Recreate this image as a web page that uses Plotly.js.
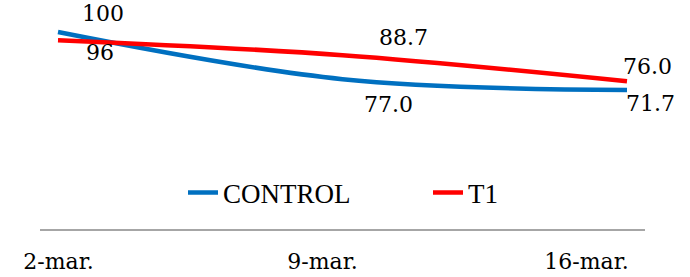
<!DOCTYPE html>
<html>
<head>
<meta charset="utf-8">
<script src="https://cdn.plot.ly/plotly-3.0.1.min.js"></script>
<style>
html,body{margin:0;padding:0;background:#fff;}
#chart{width:690px;height:277px;}
</style>
</head>
<body>
<div id="chart"></div>
<script>
var categories = ["2-mar.", "9-mar.", "16-mar."];
var control = [100, 77.0, 71.7];
var t1 = [96, 88.7, 76.0];
var seriesNames = ["CONTROL", "T1"];

function fmt(v, i) { return i === 0 ? String(v) : v.toFixed(1); }

var W = 690, H = 277;
// label offsets (px), style only
var ctrlShift = [[45, 19], [46, -25], [23, -13]];
var t1Shift = [[42, -12], [61, 18], [20, 15]];

var traces = [
  {x: categories, y: control, name: seriesNames[0], type: "scatter", mode: "lines",
   line: {color: "#0070C0", width: 4.5, shape: "spline", smoothing: 1}, hoverinfo: "skip"},
  {x: categories, y: t1, name: seriesNames[1], type: "scatter", mode: "lines",
   line: {color: "#FF0000", width: 4.5, shape: "spline", smoothing: 1}, hoverinfo: "skip"},
  {x: categories, y: categories.map(function(){return null;}), xaxis: "x2", yaxis: "y2",
   type: "scatter", mode: "lines", showlegend: false, hoverinfo: "skip"}
];

var numFont = {family: "'DejaVu Serif', serif", size: 22, color: "#000"};
var ann = [];
control.forEach(function(v, i){
  ann.push({x: categories[i], y: v, xref: "x", yref: "y", text: fmt(v, i), showarrow: false,
    xshift: ctrlShift[i][0], yshift: ctrlShift[i][1], font: numFont});
});
t1.forEach(function(v, i){
  ann.push({x: categories[i], y: v, xref: "x", yref: "y", text: fmt(v, i), showarrow: false,
    xshift: t1Shift[i][0], yshift: t1Shift[i][1], font: numFont});
});

var px1 = 284.5, px2 = 264;
var layout = {
  width: W, height: H,
  margin: {l: 0, r: 0, t: 0, b: 0},
  paper_bgcolor: "#fff", plot_bgcolor: "rgba(0,0,0,0)",
  showlegend: true,
  xaxis: {type: "category", domain: [40/W, 645/W],
    range: [-(58-40)/px1, 2 + (645-627)/px1],
    showgrid: false, zeroline: false, showline: false, showticklabels: false, ticks: ""},
  yaxis: {domain: [1 - 130/H, 1], range: [100 - (130-32)/2.05, 100 + 32/2.05],
    showgrid: false, zeroline: false, showline: false, showticklabels: false, ticks: ""},
  xaxis2: {type: "category", anchor: "y2", domain: [40/W, 645/W],
    range: [-(58.5-40)/px2, -(58.5-40)/px2 + 605/px2],
    showgrid: false, zeroline: false, showline: true, linecolor: "#A6A6A6", linewidth: 2,
    ticks: "", ticklabelstandoff: 12, tickfont: numFont},
  yaxis2: {anchor: "x2", domain: [(H-229)/H, (H-229)/H + 0.02], range: [0, 1],
    showgrid: false, zeroline: false, showline: false, showticklabels: false, ticks: ""},
  legend: {orientation: "h", x: 183/W, xanchor: "left", y: (H-193)/H, yanchor: "middle",
    font: {family: "'Liberation Serif', 'Times New Roman', serif", size: 27, color: "#000"},
    entrywidth: 200, entrywidthmode: "pixels", bgcolor: "rgba(0,0,0,0)", borderwidth: 0},
  annotations: ann
};

Plotly.newPlot("chart", traces, layout, {staticPlot: true, displayModeBar: false});
</script>
</body>
</html>
